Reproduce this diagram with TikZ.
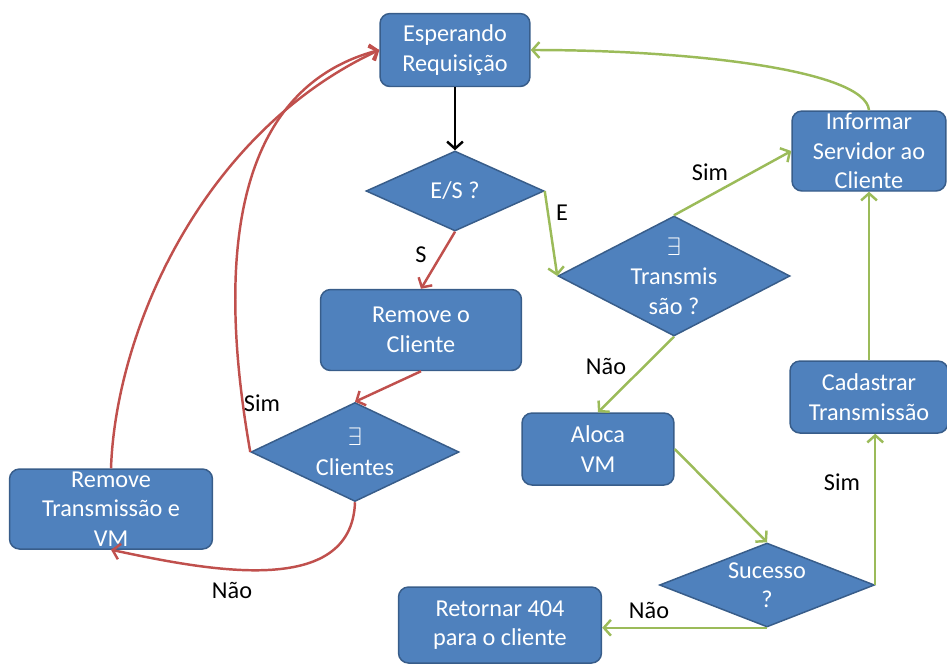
\documentclass[tikz,border=0pt]{standalone}
\usepackage{fontspec}
\setmainfont{Carlito}
\usepackage{xcolor}
\usepackage{tikz}
\usetikzlibrary{shapes.geometric,arrows.meta,positioning}

\definecolor{boxblue}{HTML}{4F81BD}
\definecolor{boxedge}{HTML}{385D8A}
\definecolor{okgreen}{HTML}{9BBB59}
\definecolor{nored}{HTML}{C0504D}

\begin{document}
\begin{tikzpicture}[
    x=0.02cm, y=0.02cm,
    font=\fontsize{13.8}{16.8}\selectfont,
    stepbox/.style={rectangle, draw=boxedge, fill=boxblue, line width=0.85pt, rounded corners=0.2cm, align=center, text=white, inner sep=0pt},
    decision/.style={diamond, draw=boxedge, fill=boxblue, line width=0.85pt, align=center, text=white, inner sep=0pt, shape aspect=2.2},
    arrowok/.style={-{Straight Barb[length=4pt,width=9pt]}, line width=1.4pt, draw=okgreen},
    arrowno/.style={-{Straight Barb[length=4pt,width=9pt]}, line width=1.4pt, draw=nored},
    arrowblk/.style={-{Straight Barb[length=4pt,width=9pt]}, line width=1.4pt, draw=black},
    tag/.style={text=black, inner sep=1pt}
]
    \useasboundingbox (0,0) rectangle (947,-664);

    \node [stepbox, minimum width=3.0cm, minimum height=1.46cm] (wait) at (455,-50) {Esperando\\Requisição};
    \node [decision, minimum width=3.56cm, minimum height=1.6cm] (es) at (455,-191) {E/S ?};
    \node [stepbox, minimum width=3.08cm, minimum height=1.6cm] (inform) at (869,-151) {Informar\\Servidor ao\\Cliente};
    \node [decision, minimum width=4.64cm, minimum height=2.4cm, inner sep=-2pt, shape aspect=1.93] (trans) at (674,-276) {$\exists$\\Transmis\\são ?};
    \node [stepbox, minimum width=4.02cm, minimum height=1.62cm] (remcli) at (421,-330) {Remove o\\Cliente};
    \node [decision, minimum width=4.16cm, minimum height=1.98cm] (cli) at (355,-452) {$\exists$\\Clientes};
    \node [stepbox, minimum width=4.06cm, minimum height=1.6cm] (remtrans) at (111,-509) {Remove\\Transmissão e\\VM};
    \node [stepbox, minimum width=3.04cm, minimum height=1.44cm] (aloca) at (598,-449) {Aloca\\VM};
    \node [decision, minimum width=4.3cm, minimum height=1.68cm] (suc) at (767,-585) {Sucesso\\?};
    \node [stepbox, minimum width=4.06cm, minimum height=1.52cm] (ret) at (500,-625) {Retornar 404\\para o cliente};
    \node [stepbox, minimum width=3.16cm, minimum height=1.44cm] (cad) at (869,-397) {Cadastrar\\Transmissão};

    % main flow
    \draw [arrowblk] (wait) -- (es);
    \draw [arrowno] (es.south) -- (remcli.north);
    \draw [arrowok] (es.east) -- (trans.west);
    \draw [arrowok] (trans.north) -- (inform.west);
    \draw [arrowok] (trans.south) -- (aloca.north);
    \draw [arrowok] (aloca.east) -- (suc.north);
    \draw [arrowok] (suc.south) -- (suc.south -| ret.east);
    \draw [arrowok] (suc.east) -- (suc.east |- cad.south);
    \draw [arrowok] (cad.north) -- (cad.north |- inform.south);
    \draw [arrowok] (inform.north) to[out=95, in=0, out looseness=0.3, in looseness=1.2] (wait.east);

    % client removal
    \draw [arrowno] (remcli.south) -- (cli.north);
    \draw [arrowno] (cli.west) to[out=100, in=195] (wait.west);
    \draw [arrowno] (cli.south) to[out=-92, in=-12] (remtrans.south);
    \draw [arrowno] (remtrans.north) to[out=88, in=205, out looseness=0.72] (wait.west);

    % labels
    \node [tag] (lblS) at (421,-255) {S};
    \node [tag] (lblE) at (562,-213) {E};
    \node [tag] (lblsim1) at (710,-172) {Sim};
    \node [tag] (lblnao1) at (606,-366) {Não};
    \node [tag] (lblsim2) at (262,-403) {Sim};
    \node [tag] (lblnao2) at (232,-590) {Não};
    \node [tag] (lblnao3) at (649,-610) {Não};
    \node [tag] (lblsim3) at (842,-482) {Sim};
\end{tikzpicture}
\end{document}
